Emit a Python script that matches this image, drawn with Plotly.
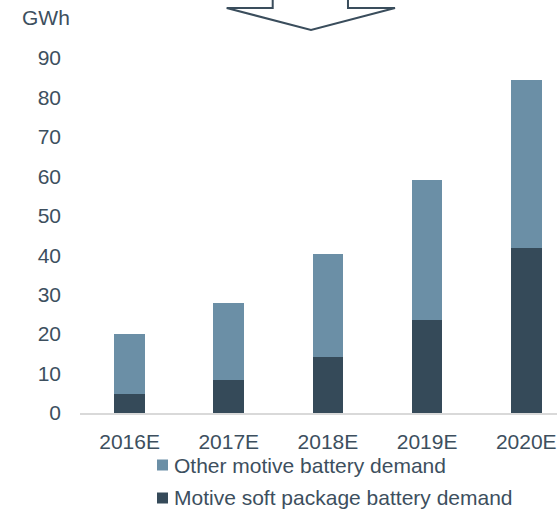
import plotly.graph_objects as go

# Battery demand forecast (GWh)
years = ["2016E", "2017E", "2018E", "2019E", "2020E"]
soft_package = [4.7, 8.3, 14.3, 23.5, 41.9]
total_demand = [20.0, 28.0, 40.3, 59.1, 84.3]
other_motive = [round(t - s, 1) for t, s in zip(total_demand, soft_package)]
y_ticks = [0, 10, 20, 30, 40, 50, 60, 70, 80, 90]

DARK = "#354a59"
LIGHT = "#6b8fa6"
TEXT = "#3d4f5e"
FONT = "Liberation Sans, Arial, sans-serif"
FS = 21

W, H = 557, 510
L, R, T, B = 80, 0, 58, 97
pw, ph = W - L - R, H - T - B


def px(x):
    return (x - L) / pw


def py(y):
    return (H - B - y) / ph


fig = go.Figure()
fig.add_bar(x=years, y=soft_package, name="Motive soft package battery demand",
            marker=dict(color=DARK, line=dict(width=0)), width=0.31)
fig.add_bar(x=years, y=other_motive, name="Other motive battery demand",
            marker=dict(color=LIGHT, line=dict(width=0)), width=0.31)

# Downward arrow outline above the chart
pts = [(272.7, -3), (272.7, 8), (226.7, 8), (311, 30), (395, 8), (348, 8), (348, -3)]
path = "M " + " L ".join(f"{px(x):.4f},{py(y):.4f}" for x, y in pts)
fig.add_shape(type="path", xref="paper", yref="paper", path=path,
              line=dict(color="#3a4d5c", width=2))

fig.add_annotation(text="GWh", xref="paper", yref="paper", x=px(46), y=py(18),
                   xanchor="center", yanchor="middle", showarrow=False,
                   font=dict(size=FS, color=TEXT, family=FONT))

# Legend: colour swatch + label, one row per series (top series first)
legend_rows = [("Other motive battery demand", LIGHT, 465),
               ("Motive soft package battery demand", DARK, 498)]
for label, color, yc in legend_rows:
    fig.add_shape(type="rect", xref="paper", yref="paper",
                  x0=px(157), x1=px(168), y0=py(yc - 5.5), y1=py(yc + 5.5),
                  fillcolor=color, line=dict(width=0))
    fig.add_annotation(text=label, xref="paper", yref="paper", x=px(172), y=py(yc),
                       xanchor="left", yanchor="middle", showarrow=False,
                       font=dict(size=FS, color=TEXT, family=FONT))

fig.update_layout(
    width=W, height=H,
    margin=dict(l=L, r=R, t=T, b=B),
    barmode="stack",
    plot_bgcolor="white", paper_bgcolor="white",
    font=dict(family=FONT, size=FS, color=TEXT),
    showlegend=False,
    xaxis=dict(range=[-0.5, 4.31], showline=True, linecolor="#d9d9d9", linewidth=2,
               ticks="", showgrid=False, ticklabelstandoff=9,
               tickfont=dict(size=FS, color=TEXT)),
    yaxis=dict(range=[0, 90], tickvals=y_ticks, showline=False, showgrid=False,
               zeroline=False, ticks="", ticklabelstandoff=18,
               tickfont=dict(size=FS, color=TEXT)),
)

fig.write_html("out.html")
